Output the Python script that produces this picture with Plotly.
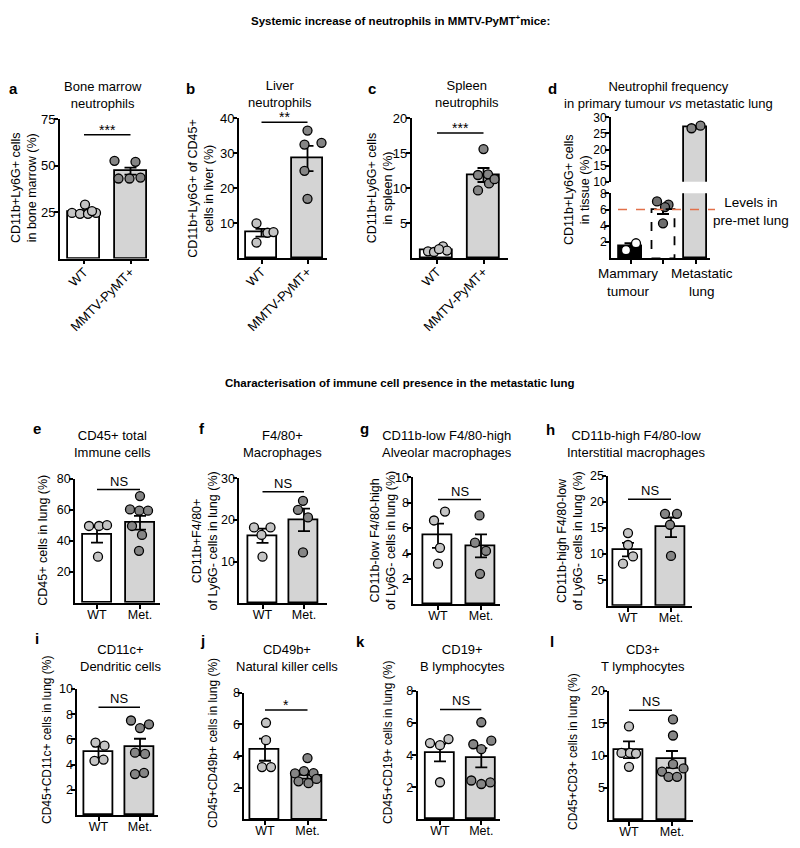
import plotly.graph_objects as go

W, H = 800, 848          # reference picture size
OFF = 8                  # browser body margin
FW, FH = W - 2 * OFF, H - 2 * OFF
FONT = "Liberation Sans, Arial, Helvetica, sans-serif"

# ---------------- data ----------------
# a  Bone marrow neutrophils
a_cats = ["WT", "MMTV-PyMT+"]
a_g1 = [24.5, 24.0, 24.0, 24.5, 29.0, 25.5]
a_g2 = [52.5, 52.0, 43.0, 43.0, 43.5]
a_mean = [25.2, 47.0]
a_sem = [0.8, 1.9]
a_sig = 66.5

# b  Liver neutrophils
b_cats = ["WT", "MMTV-PyMT+"]
b_g1 = [10.0, 4.5, 7.3, 7.5]
b_g2 = [36.5, 32.5, 33.0, 25.0, 17.0]
b_mean = [7.3, 28.5]
b_sem = [1.1, 3.6]
b_sig = 38.9

# c  Spleen neutrophils
c_cats = ["WT", "MMTV-PyMT+"]
c_g1 = [1.0, 0.9, 1.7, 1.1, 1.3]
c_g2 = [15.6, 11.9, 12.0, 9.7, 10.7, 11.3]
c_mean = [1.2, 11.9]
c_sem = [0.15, 1.0]
c_sig = 17.9

# d  Neutrophil frequency in tissue
d_cats = ["Mammary<br>tumour", "Metastatic<br>lung"]
d_tumour = [1.0, 1.85]
d_premet = [7.0, 6.6, 6.3, 4.3]
d_metlung = [26.6, 27.4]
d_mean = [1.45, 6.05, 26.9]
d_sem = [0.4, 0.6, 0.4]
d_premet_level = 6.0

# e  CD45+ total immune cells
e_cats = ["WT", "Met."]
e_g1 = [49.5, 49.5, 50.0, 29.7]
e_g2 = [68.8, 60.2, 59.4, 59.4, 49.5, 43.7, 33.5]
e_mean = [43.7, 51.6]
e_sem = [5.0, 4.4]
e_sig = 73.0

# f  F4/80+ macrophages
f_cats = ["WT", "Met."]
f_g1 = [18.2, 18.2, 16.4, 11.2]
f_g2 = [24.6, 22.4, 20.6, 12.2]
f_mean = [16.2, 20.0]
f_sem = [1.7, 2.7]
f_sig = 26.8

# g  Alveolar macrophages
g_cats = ["WT", "Met."]
g_g1 = [7.3, 6.6, 4.45, 3.2]
g_g2 = [7.0, 4.85, 4.2, 2.4]
g_mean = [5.4, 4.6]
g_sem = [0.95, 0.9]
g_sig = 8.25

# h  Interstitial macrophages
h_cats = ["WT", "Met."]
h_g1 = [14.0, 11.7, 9.5, 8.1]
h_g2 = [17.7, 17.7, 15.6, 9.6]
h_mean = [10.8, 15.1]
h_sem = [1.3, 1.9]
h_sig = 20.5

# i  Dendritic cells
i_cats = ["WT", "Met."]
i_g1 = [5.75, 5.5, 4.3, 4.4]
i_g2 = [7.5, 7.2, 6.9, 4.95, 4.85, 3.25, 3.35]
i_mean = [5.0, 5.4]
i_sem = [0.45, 0.65]
i_sig = 8.55

# j  Natural killer cells
j_cats = ["WT", "Met."]
j_g1 = [6.1, 5.0, 3.3, 3.3]
j_g2 = [3.87, 2.9, 3.05, 2.92, 2.4, 2.28, 2.55]
j_mean = [4.4, 2.77]
j_sem = [0.7, 0.2]
j_sig = 6.9

# k  B lymphocytes
k_cats = ["WT", "Met."]
k_g1 = [4.75, 4.62, 5.0, 2.31]
k_g2 = [6.05, 4.68, 4.9, 4.37, 2.42, 2.2, 2.3]
k_mean = [4.16, 3.84]
k_sem = [0.55, 0.6]
k_sig = 6.85

# l  T lymphocytes
l_cats = ["WT", "Met."]
l_g1 = [14.5, 10.4, 10.4, 10.3, 8.25]
l_g2 = [15.6, 13.1, 8.66, 7.5, 6.7, 6.7, 8.0]
l_mean = [10.9, 9.4]
l_sem = [1.3, 1.3]
l_sig = 17.0

# ---------------- layout / style (pixel geometry) ----------------
BAR_FILL = ["white", "#d4d4d4"]
PT_FILL = ["#c4c4c4", "#858585"]
LW = 1.8
YSTAND = -4
XSTAND = -5

PANELS = [
    dict(letter="a", cats=a_cats, groups=[a_g1, a_g2], mean=a_mean, sem=a_sem, sig=a_sig, sigtext="***",
         xpx=(60, 149), ypx=(119, 258.5), centers=(84, 130.5), bw=32, yr=(0, 75), ticks=[25, 50, 75],
         offs=[[-12, -4, 4, 12, 1, 8], [-16, 5, -12, -1, 10]],
         title="Bone marrow<br>neutrophils", title_xy=(103, 94.5), letter_xy=(13, 88),
         ylabel="CD11b+Ly6G+ cells<br>in bone marrow (%)", ylabel_xy=(23.5, 188.5), angle=-45, ylf=12.5),
    dict(letter="b", cats=b_cats, groups=[b_g1, b_g2], mean=b_mean, sem=b_sem, sig=b_sig, sigtext="**",
         xpx=(239, 327), ypx=(118.3, 258.3), centers=(261.5, 307.5), bw=31, yr=(0, 40), ticks=[10, 20, 30, 40],
         offs=[[-5, -5, 6, 12], [0, -3, 14, -3, 0]],
         title="Liver<br>neutrophils", title_xy=(280, 93.5), letter_xy=(190, 88),
         ylabel="CD11b+Ly6G+ of CD45+<br>cells in liver (%)", ylabel_xy=(201.5, 188.3), angle=-45, ylf=12.5),
    dict(letter="c", cats=c_cats, groups=[c_g1, c_g2], mean=c_mean, sem=c_sem, sig=c_sig, sigtext="***",
         xpx=(411.7, 508), ypx=(118.3, 258.3), centers=(437, 483.5), bw=32, yr=(0, 20), ticks=[5, 10, 15, 20],
         offs=[[-9, -3, 6, 10, 2], [0, -5.5, 4.5, -5.5, 5.5, 11]],
         title="Spleen<br>neutrophils", title_xy=(467, 94), letter_xy=(372, 88),
         ylabel="CD11b+Ly6G+ cells<br>in spleen (%)", ylabel_xy=(380, 188.3), angle=-45, ylf=12.5),
    dict(letter="e", cats=e_cats, groups=[e_g1, e_g2], mean=e_mean, sem=e_sem, sig=e_sig, sigtext="NS",
         xpx=(75, 160), ypx=(478.7, 602.7), centers=(97, 140), bw=29, yr=(0, 80), ticks=[20, 40, 60, 80],
         offs=[[-8, 2, 10, 1], [0, -10, -0.7, 8, -8, 2, -1]],
         title="CD45+ total<br>Immune cells", title_xy=(112, 444), letter_xy=(37, 428),
         ylabel="CD45+ cells in lung (%)", ylabel_xy=(43, 540.7), angle=0, ylf=12.5),
    dict(letter="f", cats=f_cats, groups=[f_g1, f_g2], mean=f_mean, sem=f_sem, sig=f_sig, sigtext="NS",
         xpx=(239.3, 327), ypx=(478.3, 603.3), centers=(262.5, 304), bw=29, yr=(0, 30), ticks=[10, 20, 30],
         offs=[[-8.5, 8, -1, 0], [-1, -6, 4, -1]],
         title="F4/80+<br>Macrophages", title_xy=(282, 444), letter_xy=(202, 428),
         ylabel="CD11b+F4/80+<br>of Ly6G- cells in lung (%)", ylabel_xy=(204.5, 541), angle=0, ylf=12.5),
    dict(letter="g", cats=g_cats, groups=[g_g1, g_g2], mean=g_mean, sem=g_sem, sig=g_sig, sigtext="NS",
         xpx=(413.3, 500), ypx=(477.3, 604.3), centers=(438, 481), bw=29, yr=(0, 10), ticks=[2, 4, 6, 8, 10],
         offs=[[7, -4, 2, 0], [-1.5, -6, 5, -1]],
         title="CD11b-low F4/80-high<br>Alveolar macrophages", title_xy=(447, 444), letter_xy=(364, 428),
         ylabel="CD11b-low F4/80-high<br>of Ly6G- cells in lung (%)", ylabel_xy=(383, 541), angle=0, ylf=12.5),
    dict(letter="h", cats=h_cats, groups=[h_g1, h_g2], mean=h_mean, sem=h_sem, sig=h_sig, sigtext="NS",
         xpx=(608.3, 691.7), ypx=(476, 605.7), centers=(628, 671), bw=29, yr=(0, 25), ticks=[5, 10, 15, 20, 25],
         offs=[[0, 0, 5, -5], [-6, 6, -1, 0]],
         title="CD11b-high F4/80-low<br>Interstitial macrophages", title_xy=(636, 444), letter_xy=(550, 429),
         ylabel="CD11b-high F4/80-low<br>of Ly6G- cells in lung (%)", ylabel_xy=(569.5, 541), angle=0, ylf=12.5),
    dict(letter="i", cats=i_cats, groups=[i_g1, i_g2], mean=i_mean, sem=i_sem, sig=i_sig, sigtext="NS",
         xpx=(77.3, 158), ypx=(689, 815), centers=(98.5, 140), bw=29, yr=(0, 10), ticks=[2, 4, 6, 8, 10],
         offs=[[-3, 6, -4, 5], [-9, 9, 0, -5, 5, -5, 4]],
         title="CD11c+<br>Dendritic cells", title_xy=(120, 658), letter_xy=(37, 638),
         ylabel="CD45+CD11c+ cells in lung (%)", ylabel_xy=(47, 740), angle=0, ylf=12),
    dict(letter="j", cats=j_cats, groups=[j_g1, j_g2], mean=j_mean, sem=j_sem, sig=j_sig, sigtext="*",
         xpx=(244.3, 327), ypx=(692.7, 819.3), centers=(265, 307.5), bw=29.5, yr=(0, 8), ticks=[2, 4, 6, 8],
         offs=[[1, 1, -3, 6], [0, -12.5, -3.5, 6, -9, 1, 9]],
         title="CD49b+<br>Natural killer cells", title_xy=(287, 658), letter_xy=(202, 640),
         ylabel="CD45+CD49b+ cells in lung (%)", ylabel_xy=(213, 743), angle=0, ylf=12),
    dict(letter="k", cats=k_cats, groups=[k_g1, k_g2], mean=k_mean, sem=k_sem, sig=k_sig, sigtext="NS",
         xpx=(417.7, 500), ypx=(691, 819.3), centers=(440, 481.3), bw=28.5, yr=(0, 8), ticks=[2, 4, 6, 8],
         offs=[[-10, 0, 8.5, 0], [0, -8, 10, 0, -10, 0, 9]],
         title="CD19+<br>B lymphocytes", title_xy=(462, 658), letter_xy=(360, 641),
         ylabel="CD45+CD19+ cells in lung (%)", ylabel_xy=(388, 743), angle=0, ylf=12),
    dict(letter="l", cats=l_cats, groups=[l_g1, l_g2], mean=l_mean, sem=l_sem, sig=l_sig, sigtext="NS",
         xpx=(609.3, 692.7), ypx=(691, 820), centers=(629, 672), bw=28.5, yr=(0, 20), ticks=[5, 10, 15, 20],
         offs=[[0, -7.5, 1, 7, 0], [1, 1, 1, -10, -3.5, 5, 11.5]],
         title="CD3+<br>T lymphocytes", title_xy=(643, 658), letter_xy=(552, 641),
         ylabel="CD45+CD3+ cells in lung (%)", ylabel_xy=(573, 752), angle=0, ylf=12),
]

# panel d geometry
D = dict(xpx=(611, 710), ylow=(193.3, 258.3), yup=(117.3, 181.7), centers=(630.5, 663, 695.5), bw=23,
         offs_tumour=[-4.5, 5.5], offs_premet=[-6, 5.5, 2, 0], offs_met=[-4, 5],
         redline_px=(618, 715), catlabel_xy=[(628, 282), (702, 282)])


def X(px):
    return (px - OFF) / FW


def Y(py):
    return 1 - (py - OFF) / FH


fig = go.Figure()
layout = dict(template="none", width=FW, height=FH, margin=dict(l=0, r=0, t=0, b=0, pad=0),
              paper_bgcolor="white", plot_bgcolor="white", showlegend=False,
              font=dict(family=FONT, color="black"))
shapes, annots = [], []


def axis_common():
    return dict(showline=True, linecolor="black", linewidth=LW, ticks="outside", ticklen=4,
                tickwidth=LW, tickcolor="black", showgrid=False, zeroline=False, fixedrange=True,
                automargin=False)


def text(x, y, t, size=13, bold=False, angle=0, xa="center", ya="middle"):
    if bold:
        t = "<b>" + t + "</b>"
    annots.append(dict(x=X(x), y=Y(y), xref="paper", yref="paper", text=t, showarrow=False,
                       textangle=angle, xanchor=xa, yanchor=ya,
                       font=dict(family=FONT, size=size, color="black")))


def add_two_group(idx, p):
    xa, ya = f"x{idx}", f"y{idx}"
    c0, c1 = p["centers"]
    u = c1 - c0
    xl, xr = p["xpx"]
    yt, yb = p["ypx"]
    row1 = p["angle"] != 0
    layout[f"xaxis{idx}"] = dict(axis_common(), domain=[X(xl), X(xr)], range=[(xl - c0) / u, (xr - c0) / u],
                                 anchor=ya, tickvals=[0, 1], ticktext=p["cats"], tickangle=p["angle"],
                                 ticklabelstandoff=XSTAND, tickfont=dict(size=13 if row1 else 12.5))
    layout[f"yaxis{idx}"] = dict(axis_common(), domain=[Y(yb), Y(yt)], range=list(p["yr"]), anchor=xa,
                                 tickvals=p["ticks"], ticklabelstandoff=YSTAND,
                                 tickfont=dict(size=13 if row1 else 12.5))
    fig.add_trace(go.Bar(x=[0, 1], y=p["mean"], width=p["bw"] / u, xaxis=xa, yaxis=ya,
                         marker=dict(color=BAR_FILL, line=dict(color="black", width=LW)),
                         error_y=dict(type="data", array=p["sem"], visible=True, color="black",
                                      thickness=LW, width=6)))
    for g, (vals, offs) in enumerate(zip(p["groups"], p["offs"])):
        fig.add_trace(go.Scatter(x=[g + o / u for o in offs], y=vals, mode="markers", xaxis=xa, yaxis=ya,
                                 cliponaxis=False,
                                 marker=dict(size=9, color=PT_FILL[g], line=dict(color="black", width=1.3))))
    shapes.append(dict(type="line", xref=xa, yref=ya, x0=0, x1=1, y0=p["sig"], y1=p["sig"],
                       line=dict(color="black", width=1.5)))
    star = "*" in p["sigtext"]
    annots.append(dict(x=0.5, y=p["sig"], xref=xa, yref=ya, text=p["sigtext"], showarrow=False,
                       yanchor="bottom", yshift=-5 if star else -1,
                       font=dict(family=FONT, size=14 if star else 13, color="black")))
    tx, ty = p["title_xy"]
    text(tx, ty, p["title"], size=13)
    lx, ly = p["letter_xy"]
    text(lx, ly, p["letter"], size=15, bold=True)
    yx, yy = p["ylabel_xy"]
    text(yx, yy, p["ylabel"], size=p["ylf"], angle=-90)


idx = 1
for p in PANELS[:3]:
    add_two_group(idx, p)
    idx += 1

# ---- panel d (broken axis) ----
il, iu = idx, idx + 1
c0 = D["centers"][0]
u = D["centers"][1] - D["centers"][0]
xl, xr = D["xpx"]
xrng = [(xl - c0) / u, (xr - c0) / u]
bw = D["bw"] / u
layout[f"xaxis{il}"] = dict(axis_common(), domain=[X(xl), X(xr)], range=xrng, anchor=f"y{il}",
                            tickvals=[0, 1, 2], showticklabels=False)
layout[f"yaxis{il}"] = dict(axis_common(), domain=[Y(D["ylow"][1]), Y(D["ylow"][0])], range=[0, 8],
                            anchor=f"x{il}", tickvals=[2, 4, 6, 8], ticklabelstandoff=YSTAND,
                            tickfont=dict(size=12))
layout[f"xaxis{iu}"] = dict(domain=[X(xl), X(xr)], range=xrng, anchor=f"y{iu}", visible=False,
                            fixedrange=True, automargin=False)
layout[f"yaxis{iu}"] = dict(axis_common(), domain=[Y(D["yup"][1]), Y(D["yup"][0])], range=[10, 30],
                            anchor=f"x{iu}", tickvals=[10, 15, 20, 25, 30], ticklabelstandoff=YSTAND,
                            tickfont=dict(size=12))
xa, ya = f"x{il}", f"y{il}"
fig.add_trace(go.Bar(x=[0], y=[d_mean[0]], width=bw, xaxis=xa, yaxis=ya,
                     marker=dict(color="black", line=dict(color="black", width=LW)),
                     error_y=dict(type="data", array=[d_sem[0]], color="black", thickness=LW, width=6)))
fig.add_trace(go.Bar(x=[1], y=[d_mean[1]], width=bw, xaxis=xa, yaxis=ya,
                     marker=dict(color="rgba(0,0,0,0)", line=dict(width=0)),
                     error_y=dict(type="data", array=[d_sem[1]], color="black", thickness=1.5, width=6)))
shapes.append(dict(type="rect", xref=xa, yref=ya, x0=1 - bw / 2, x1=1 + bw / 2, y0=0, y1=d_mean[1],
                   line=dict(color="black", width=LW, dash="dash")))
fig.add_trace(go.Bar(x=[2], y=[d_mean[2]], width=bw, xaxis=xa, yaxis=ya,
                     marker=dict(color="#d4d4d4", line=dict(color="black", width=LW))))
fig.add_trace(go.Bar(x=[2], y=[d_mean[2]], width=bw, xaxis=f"x{iu}", yaxis=f"y{iu}",
                     marker=dict(color="#d4d4d4", line=dict(color="black", width=LW)),
                     error_y=dict(type="data", array=[d_sem[2]], color="black", thickness=LW, width=6)))
fig.add_trace(go.Scatter(x=[0 + o / u for o in D["offs_tumour"]], y=d_tumour, mode="markers",
                         xaxis=xa, yaxis=ya, cliponaxis=False,
                         marker=dict(size=9, color="white", line=dict(color="black", width=1.3))))
fig.add_trace(go.Scatter(x=[1 + o / u for o in D["offs_premet"]], y=d_premet, mode="markers",
                         xaxis=xa, yaxis=ya, cliponaxis=False,
                         marker=dict(size=9, color="#6e6e6e", line=dict(color="black", width=1.3))))
fig.add_trace(go.Scatter(x=[2 + o / u for o in D["offs_met"]], y=d_metlung, mode="markers",
                         xaxis=f"x{iu}", yaxis=f"y{iu}", cliponaxis=False,
                         marker=dict(size=9, color="#858585", line=dict(color="black", width=1.3))))
shapes.append(dict(type="line", xref="paper", yref=ya, x0=X(D["redline_px"][0]), x1=X(D["redline_px"][1]),
                   y0=d_premet_level, y1=d_premet_level, line=dict(color="#e2704a", width=1.6, dash="dash")))
for lab, (lx, ly) in zip(d_cats, D["catlabel_xy"]):
    text(lx, ly, lab, size=13.5)
text(751, 211.5, "Levels in<br>pre-met lung", size=13.5)
text(668, 94.5, "Neutrophil frequency<br>in primary tumour <i>vs</i> metastatic lung", size=13)
text(552, 88, "d", size=15, bold=True)
text(577, 190, "CD11b+Ly6G+ cells<br>in tissue (%)", size=12.5, angle=-90)
idx += 2

for p in PANELS[3:]:
    add_two_group(idx, p)
    idx += 1

# headings
text(400, 20, "Systemic increase of neutrophils in MMTV-PyMT<sup>+</sup>mice:", size=11.5, bold=True)
text(400, 383, "Characterisation of immune cell presence in the metastatic lung", size=11.5, bold=True)

layout["shapes"] = shapes
layout["annotations"] = annots
layout["bargap"] = 0
fig.update_layout(**layout)
fig.write_html("out.html")
